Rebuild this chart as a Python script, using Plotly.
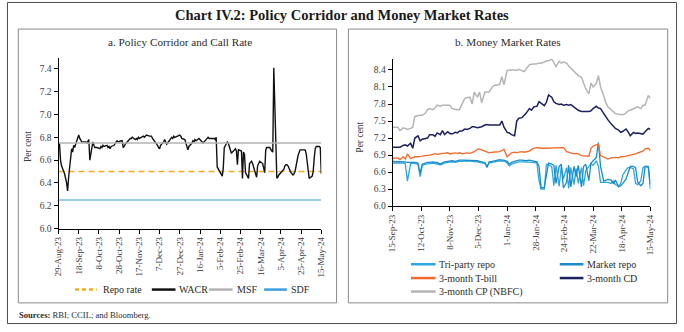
import pandas as pd
import plotly.graph_objects as go

# ---------------------------------------------------------------------------
# Panel a: policy corridor and weighted average call rate (WACR), per cent
# ---------------------------------------------------------------------------
A_START, A_END = "2023-08-29", "2024-05-15"
REPO_RATE = 6.50
MSF_RATE = 6.75
SDF_RATE = 6.25

# WACR, one value per business day (rows are calendar weeks)
wacr = [
    6.75, 6.74, 6.60, 6.55,
    6.48, 6.45, 6.40, 6.33, 6.45,
    6.70, 6.67, 6.73, 6.71, 6.74,
    6.82, 6.79, 6.77, 6.76, 6.76,
    6.76, 6.75, 6.77, 6.78, 6.60,
    6.76, 6.73, 6.71, 6.71, 6.71,
    6.70, 6.72, 6.71, 6.73, 6.72,
    6.73, 6.71, 6.72, 6.70, 6.72,
    6.73, 6.75, 6.76, 6.77, 6.76,
    6.77, 6.77, 6.71, 6.72, 6.74,
    6.77, 6.78, 6.79, 6.79, 6.80,
    6.78, 6.79, 6.78, 6.80, 6.79,
    6.80, 6.81, 6.80, 6.81, 6.82,
    6.81, 6.81, 6.81, 6.79, 6.78,
    6.75, 6.73, 6.71, 6.70, 6.73,
    6.76, 6.78, 6.76, 6.74, 6.75,
    6.79, 6.80, 6.79, 6.81, 6.80,
    6.81, 6.82, 6.82, 6.81, 6.79,
    6.78, 6.75, 6.72, 6.69, 6.72,
    6.75, 6.77, 6.76, 6.78, 6.77,
    6.79, 6.78, 6.77, 6.76, 6.75,
    6.78, 6.79, 6.80, 6.79, 6.79,
    6.79, 6.79, 6.78, 6.80, 6.54,
    6.49, 6.47, 6.46, 6.53, 6.71,
    6.76, 6.75, 6.72, 6.68, 6.66,
    6.69, 6.70, 6.68, 6.56, 6.69,
    6.68, 6.44, 6.67, 6.65, 6.49,
    6.44, 6.57, 6.58, 6.59, 6.57,
    6.49, 6.45, 6.55, 6.58, 6.59,
    6.57, 6.52, 6.49, 6.69, 6.71,
    6.71, 6.69, 6.68, 6.67, 7.41,
    6.44, 6.45, 6.47, 6.48, 6.49,
    6.52, 6.55, 6.56, 6.56, 6.55,
    6.49, 6.48, 6.47, 6.48, 6.50,
    6.64, 6.67, 6.69, 6.69, 6.69,
    6.69, 6.66, 6.60, 6.53, 6.44,
    6.46, 6.50, 6.62, 6.70, 6.72,
    6.72, 6.71, 6.48,
]

a_tick_dates = ["2023-08-29", "2023-09-18", "2023-10-08", "2023-10-28", "2023-11-17",
                "2023-12-07", "2023-12-27", "2024-01-16", "2024-02-05", "2024-02-25",
                "2024-03-16", "2024-04-05", "2024-04-25", "2024-05-15"]
a_tick_labels = ["29-Aug-23", "18-Sep-23", "8-Oct-23", "28-Oct-23", "17-Nov-23",
                 "7-Dec-23", "27-Dec-23", "16-Jan-24", "5-Feb-24", "25-Feb-24",
                 "16-Mar-24", "5-Apr-24", "25-Apr-24", "15-May-24"]

# ---------------------------------------------------------------------------
# Panel b: money market rates, per cent (Mon / Wed / Fri observations)
# ---------------------------------------------------------------------------
B_START, B_END = "2023-09-15", "2024-05-15"

tri_party_repo = [
    6.76,
    6.76, 6.77, 6.76,  6.76, 6.75, 6.44,  6.75, 6.76, 6.75,  6.74, 6.52, 6.72,
    6.74, 6.75, 6.75,  6.76, 6.75, 6.75,  6.73, 6.74, 6.76,  6.77, 6.78, 6.78,
    6.77, 6.78, 6.79,  6.79, 6.80, 6.79,  6.80, 6.79, 6.79,  6.78, 6.77, 6.76,
    6.75, 6.70, 6.76,  6.77, 6.78, 6.79,  6.80, 6.79, 6.80,  6.76, 6.71, 6.74,
    6.76, 6.77, 6.78,  6.78, 6.78, 6.77,  6.78, 6.78, 6.77,  6.76, 6.45, 6.30,
    6.30, 6.74, 6.72,  6.70, 6.36, 6.72,  6.35, 6.70, 6.48,  6.68, 6.31, 6.68,
    6.38, 6.66, 6.40,  6.68, 6.36, 6.62,  6.70, 6.75, 6.72,  6.80, 6.70, 6.42,
    6.42, 6.42, 6.42,  6.40, 6.44, 6.38,  6.35, 6.40, 6.55,  6.64, 6.68, 6.68,
    6.66, 6.40, 6.38,  6.45, 6.68, 6.70,
    6.68, 6.30,
]

market_repo = [
    6.79,
    6.79, 6.78, 6.79,  6.78, 6.78, 6.77,  6.77, 6.78, 6.77,  6.76, 6.58, 6.74,
    6.76, 6.77, 6.77,  6.78, 6.77, 6.77,  6.74, 6.76, 6.78,  6.79, 6.80, 6.80,
    6.79, 6.80, 6.81,  6.81, 6.81, 6.80,  6.81, 6.81, 6.80,  6.80, 6.79, 6.78,
    6.77, 6.68, 6.78,  6.79, 6.80, 6.81,  6.82, 6.81, 6.81,  6.79, 6.74, 6.77,
    6.79, 6.80, 6.81,  6.81, 6.80, 6.80,  6.81, 6.80, 6.80,  6.78, 6.70, 6.32,
    6.33, 6.55, 6.76,  6.74, 6.72, 6.40,  6.70, 6.74, 6.32,  6.42, 6.72, 6.34,
    6.70, 6.52, 6.72,  6.34, 6.70, 6.74,  6.45, 6.76, 6.80,  6.86, 7.12, 6.70,
    6.44, 6.45, 6.47,  6.46, 6.40, 6.46,  6.34, 6.36, 6.40,  6.48, 6.58, 6.70,
    6.70, 6.68, 6.42,  6.36, 6.40, 6.70,
    6.70, 6.38,
]

tbill_3m = [
    6.84,
    6.85, 6.85, 6.82,  6.87, 6.83, 6.92,  6.84, 6.86, 6.87,  6.87, 6.87, 6.88,
    6.89, 6.90, 6.90,  6.91, 6.93, 6.91,  6.93, 6.93, 6.93,  6.94, 6.92, 6.93,
    6.94, 6.93, 6.94,  6.92, 6.93, 6.94,  6.93, 6.94, 6.96,  7.00, 7.01, 6.99,
    6.97, 6.95, 6.94,  6.95, 6.95, 6.95,  6.96, 6.98, 7.00,  6.87, 6.91, 6.94,
    6.95, 6.94, 6.95,  6.96, 6.95, 6.96,  6.97, 7.00, 7.02,  7.03, 7.02, 7.02,
    7.02, 7.02, 7.03,  7.02, 7.02, 7.02,  7.03, 7.03, 7.03,  6.96, 6.95, 6.93,
    6.92, 6.93, 6.92,  6.89, 6.89, 6.89,  6.88, 7.02, 7.06,  7.08, 7.09, 6.89,
    6.86, 6.85, 6.83,  6.85, 6.86, 6.86,  6.85, 6.87, 6.87,  6.88, 6.89, 6.90,
    6.91, 6.92, 6.94,  6.95, 6.97, 7.01,
    7.02, 6.98,
]

cd_3m = [
    7.04,
    7.04, 7.04, 7.04,  7.07, 7.08, 7.06,  7.11, 7.02, 7.20,  7.24, 7.15, 7.18,
    7.19, 7.20, 7.26,  7.26, 7.23, 7.29,  7.26, 7.33, 7.26,  7.31, 7.28, 7.27,
    7.30, 7.29, 7.32,  7.33, 7.36, 7.35,  7.37, 7.40, 7.40,  7.38, 7.39, 7.40,
    7.43, 7.44, 7.43,  7.43, 7.44, 7.43,  7.43, 7.50, 7.39,  7.30, 7.29, 7.26,
    7.24, 7.50, 7.55,  7.56, 7.60, 7.64,  7.72, 7.69, 7.75,  7.76, 7.84, 7.81,
    7.77, 7.83, 7.96,  7.92, 7.84, 7.81,  7.79, 7.80, 7.78,  7.79, 7.78, 7.79,
    7.74, 7.71, 7.69,  7.67, 7.67, 7.66,  7.67, 7.68, 7.72,  7.76, 7.73, 7.72,
    7.63, 7.56, 7.52,  7.45, 7.40, 7.37,  7.34, 7.30, 7.32,  7.36, 7.31, 7.24,
    7.30, 7.28, 7.29,  7.28, 7.27, 7.31,
    7.37, 7.35,
]

cp_nbfc_3m = [
    7.39,
    7.39, 7.39, 7.33,  7.38, 7.37, 7.35,  7.37, 7.39, 7.58,  7.60, 7.60, 7.60,
    7.64, 7.70, 7.72,  7.70, 7.73, 7.78,  7.76, 7.78, 7.78,  7.78, 7.78, 7.72,
    7.70, 7.70, 7.70,  7.84, 7.90, 7.91,  7.92, 7.80, 8.01,  7.92, 8.01, 7.82,
    8.01, 8.01, 8.01,  8.10, 8.13, 8.13,  8.15, 8.28, 8.14,  8.39, 8.40, 8.40,
    8.40, 8.39, 8.41,  8.38, 8.37, 8.42,  8.49, 8.50, 8.50,  8.51, 8.52, 8.52,
    8.54, 8.56, 8.56,  8.59, 8.53, 8.46,  8.55, 8.52, 8.54,  8.52, 8.47, 8.43,
    8.38, 8.33, 8.30,  8.27, 8.16, 8.07,  7.98, 8.17, 8.10,  8.16, 8.30, 8.10,
    7.94, 7.82, 7.75,  7.70, 7.65, 7.63,  7.62, 7.62, 7.61,  7.64, 7.68, 7.69,
    7.72, 7.73, 7.75,  7.72, 7.78, 7.78,
    7.95, 7.90,
]

b_tick_dates = ["2023-09-15", "2023-10-12", "2023-11-08", "2023-12-05", "2024-01-01",
                "2024-01-28", "2024-02-24", "2024-03-22", "2024-04-18", "2024-05-15"]
b_tick_labels = ["15-Sep-23", "12-Oct-23", "8-Nov-23", "5-Dec-23", "1-Jan-24",
                 "28-Jan-24", "24-Feb-24", "22-Mar-24", "18-Apr-24", "15-May-24"]

# ---------------------------------------------------------------------------
# Observation dates
# ---------------------------------------------------------------------------
a_dates = pd.bdate_range(A_START, A_END)
b_dates = pd.DatetimeIndex([d for d in pd.bdate_range(B_START, B_END) if d.weekday() in (0, 2, 4)])
assert len(a_dates) == len(wacr)
for s in (tri_party_repo, market_repo, tbill_3m, cd_3m, cp_nbfc_3m):
    assert len(s) == len(b_dates)

# ---------------------------------------------------------------------------
# Styling
# ---------------------------------------------------------------------------
W, H = 684, 332
SERIF = "Liberation Serif, Times New Roman, serif"
TXT = "#2b2b2b"
TICK_TXT = "#3d3d3d"

C_REPO = "#f5aa1c"
C_WACR = "#111111"
C_MSF = "#b3b3b3"
C_SDF = "#3a9fdc"
C_TRI = "#2aa8e2"
C_MKT = "#1a8ccb"
C_TBILL = "#f26a2b"
C_CD = "#1d2160"
C_CP = "#b5b5b5"


def fx(x):
    return x / W


def fy(y):
    return 1 - y / H


fig = go.Figure()

# Panel a series
fig.add_trace(go.Scatter(x=[A_START, A_END], y=[REPO_RATE, REPO_RATE], mode="lines",
                         line=dict(color=C_REPO, width=1.3, dash="6px,4px"),
                         xaxis="x", yaxis="y", name="Repo rate"))
fig.add_trace(go.Scatter(x=a_dates, y=wacr, mode="lines",
                         line=dict(color=C_WACR, width=1.4),
                         xaxis="x", yaxis="y", name="WACR"))
fig.add_trace(go.Scatter(x=[A_START, A_END], y=[MSF_RATE, MSF_RATE], mode="lines",
                         line=dict(color=C_MSF, width=1.5),
                         xaxis="x", yaxis="y", name="MSF"))
fig.add_trace(go.Scatter(x=[A_START, A_END], y=[SDF_RATE, SDF_RATE], mode="lines",
                         line=dict(color=C_SDF, width=1.2),
                         xaxis="x", yaxis="y", name="SDF"))

# Panel b series
b_series = [
    ("Tri-party repo", tri_party_repo, C_TRI, 1.3),
    ("Market repo", market_repo, C_MKT, 1.3),
    ("3-month T-bill", tbill_3m, C_TBILL, 1.3),
    ("3-month CD", cd_3m, C_CD, 1.5),
    ("3-month CP (NBFC)", cp_nbfc_3m, C_CP, 1.5),
]
for name, vals, col, wdt in b_series:
    fig.add_trace(go.Scatter(x=b_dates, y=vals, mode="lines",
                             line=dict(color=col, width=wdt),
                             xaxis="x2", yaxis="y2", name=name))

axis_common = dict(showgrid=False, zeroline=False, showline=True, linecolor="#000000",
                   linewidth=1, ticks="outside", ticklen=4, tickcolor="#000000",
                   tickwidth=1)
x_font = dict(family=SERIF, size=9, color=TICK_TXT)
y_font = dict(family=SERIF, size=9.5, color=TICK_TXT)

fig.update_layout(
    width=W, height=H,
    margin=dict(l=0, r=0, t=0, b=0),
    paper_bgcolor="white", plot_bgcolor="white",
    showlegend=False,
    xaxis=dict(domain=[fx(54.3), fx(321)], anchor="y", type="date",
               range=[A_START, A_END], tickmode="array",
               tickvals=a_tick_dates, ticktext=a_tick_labels, tickangle=-90,
               tickfont=x_font, **axis_common),
    yaxis=dict(domain=[fy(232), fy(58.4)], anchor="x", range=[6.0, 7.5],
               tick0=6.0, dtick=0.2, tickformat=".1f", tickfont=y_font, **axis_common),
    xaxis2=dict(domain=[fx(393.3), fx(655)], anchor="y2", type="date",
                range=[B_START, B_END], tickmode="array",
                tickvals=b_tick_dates, ticktext=b_tick_labels, tickangle=-90,
                tickfont=x_font, **axis_common),
    yaxis2=dict(domain=[fy(209.3), fy(59.5)], anchor="x2", range=[6.0, 8.6],
                tick0=6.0, dtick=0.3, tickformat=".1f", tickfont=y_font, **axis_common),
)

shapes = []
# outer frame and panel boxes
shapes.append(dict(type="rect", xref="paper", yref="paper",
                   x0=fx(2.5), x1=fx(681.5), y0=fy(328.5), y1=fy(2.5),
                   line=dict(color="#4d4d4d", width=1)))
shapes.append(dict(type="rect", xref="paper", yref="paper",
                   x0=fx(13.5), x1=fx(336.5), y0=fy(307.5), y1=fy(29.5),
                   line=dict(color="#8a8a8a", width=1)))
shapes.append(dict(type="rect", xref="paper", yref="paper",
                   x0=fx(348.5), x1=fx(672.5), y0=fy(307.5), y1=fy(29.5),
                   line=dict(color="#8a8a8a", width=1)))

annotations = []


def text(x, y, s, size=10, anchor="left", bold=False, angle=0, color=TXT):
    annotations.append(dict(xref="paper", yref="paper", x=fx(x), y=fy(y),
                            text=f"<b>{s}</b>" if bold else s, showarrow=False,
                            xanchor=anchor, yanchor="middle", textangle=angle,
                            font=dict(family=SERIF, size=size, color=color)))


def swatch(x0, x1, y, color, width=2.5, dash="solid"):
    shapes.append(dict(type="line", xref="paper", yref="paper",
                       x0=fx(x0), x1=fx(x1), y0=fy(y), y1=fy(y),
                       line=dict(color=color, width=width, dash=dash)))


# titles
text(342, 15, "Chart IV.2: Policy Corridor and Money Market Rates", size=14.5,
     anchor="center", bold=True, color="#1a1a1a")
text(178, 43, "a. Policy Corridor and Call Rate", size=11.2, anchor="center")
text(510, 43, "b. Money Market Rates", size=11.2, anchor="center")

# axis titles
text(23.5, 149, "Per cent", size=9.5, anchor="center", angle=-90, color=TICK_TXT)
text(360.5, 139.5, "Per cent", size=9.5, anchor="center", angle=-90, color=TICK_TXT)

# panel a legend
swatch(71, 93, 294, C_REPO, dash="4px,3px")
text(97, 294, "Repo rate")
swatch(149, 173, 294, C_WACR)
text(175, 294, "WACR")
swatch(207, 231, 294, C_MSF)
text(233, 294, "MSF")
swatch(263, 286, 294, C_SDF)
text(288, 294, "SDF")

# panel b legend
swatch(412, 437, 268.3, C_TRI)
text(438.5, 268.3, "Tri-party repo")
swatch(563, 587, 268.3, C_MKT)
text(589, 268.3, "Market repo")
swatch(412, 437, 282.3, C_TBILL)
text(438.5, 282.3, "3-month T-bill")
swatch(563, 587, 282.3, C_CD)
text(589, 282.3, "3-month CD")
swatch(412, 437, 296, C_CP)
text(438.5, 296, "3-month CP (NBFC)")

# source note
text(12.5, 319.5, "<b>Sources:</b> RBI; CCIL; and Bloomberg.", size=8.6)

fig.update_layout(shapes=shapes, annotations=annotations)
fig.write_html("out.html")
